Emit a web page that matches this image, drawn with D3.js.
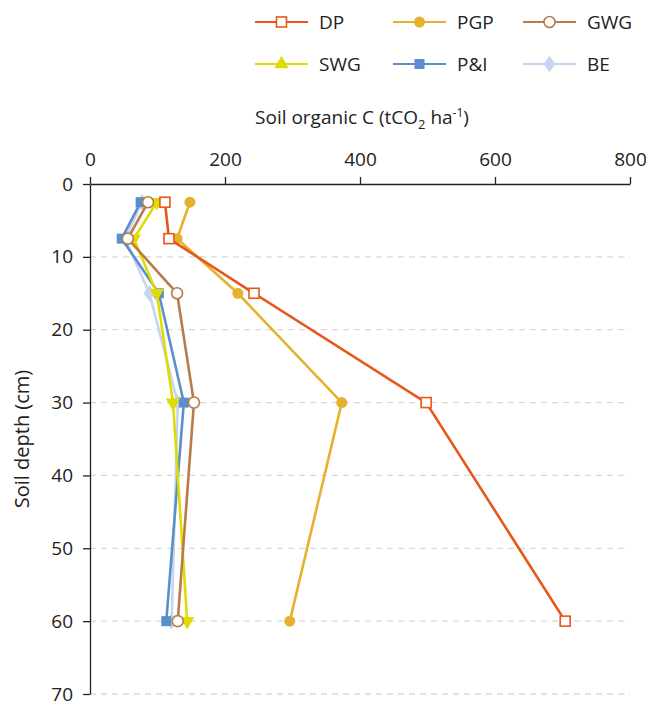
<!DOCTYPE html>
<html>
<head>
<meta charset="utf-8">
<script src="https://cdn.jsdelivr.net/npm/d3@7"></script>
<style>
  body { margin: 0; background: #fff; }
  text { font-family: "Open Sans", "Noto Sans", sans-serif; fill: #222; }
</style>
</head>
<body>
<div id="chart"></div>
<script>
// depth (cm) at each sampling point
const depths = [2.5, 7.5, 15, 30, 60];

// soil organic C (tCO2 ha-1) per land-use series
const seriesNames = ['DP', 'PGP', 'GWG', 'SWG', 'P&I', 'BE'];
const dpValues  = [111, 117, 243, 498, 704];
const pgpValues = [148, 129, 219, 373, 296];
const gwgValues = [86, 56, 129, 154, 130];
const swgValues = [99, 65, 99, 123, 144];
const piValues  = [75, 47, 102, 139, 113];
const beValues  = [77, 52, 88, 130, 121];

const xTicks = [0, 200, 400, 600, 800];
const yTicks = [0, 10, 20, 30, 40, 50, 60, 70];

const series = [
  {name: 'BE',  values: beValues,  color: '#c5d5ef', marker: 'diamond'},
  {name: 'P&I', values: piValues,  color: '#5b8fcc', marker: 'square'},
  {name: 'SWG', values: swgValues, color: '#dedc00', marker: 'triangle'},
  {name: 'GWG', values: gwgValues, color: '#b97b4a', marker: 'circleOpen'},
  {name: 'PGP', values: pgpValues, color: '#e6b22e', marker: 'circle'},
  {name: 'DP',  values: dpValues,  color: '#e8561a', marker: 'squareOpen'}
];

const width = 646, height = 701;
const margin = {top: 184, right: 16, bottom: 7, left: 90};
const innerW = width - margin.left - margin.right;
const innerH = height - margin.top - margin.bottom;

const svg = d3.select('#chart').append('svg')
  .attr('width', width)
  .attr('height', height);

const chart = svg.append('g')
  .attr('transform', `translate(${margin.left},${margin.top})`);

const xScale = d3.scaleLinear().domain([0, 800]).range([0, innerW]);
const yScale = d3.scaleLinear().domain([0, 70]).range([0, innerH]);

// dashed gridlines
chart.append('g').selectAll('line')
  .data(yTicks.filter(d => d > 0))
  .enter().append('line')
  .attr('x1', 0).attr('x2', innerW)
  .attr('y1', d => yScale(d)).attr('y2', d => yScale(d))
  .attr('stroke', '#d9d9d9')
  .attr('stroke-width', 1.3)
  .attr('stroke-dasharray', '6,5');

// axes
const xAxisG = chart.append('g')
  .call(d3.axisTop(xScale).tickValues(xTicks).tickSize(7).tickSizeOuter(0).tickPadding(11));
const yAxisG = chart.append('g')
  .call(d3.axisLeft(yScale).tickValues(yTicks).tickSize(7).tickSizeOuter(0).tickPadding(10));

[xAxisG, yAxisG].forEach(g => {
  g.selectAll('path, line').attr('stroke', '#222').attr('stroke-width', 1.3);
  g.selectAll('text').style('font-size', '19px').attr('fill', '#222');
});

// axis titles
const xTitle = svg.append('text')
  .attr('x', 362).attr('y', 124)
  .attr('text-anchor', 'middle')
  .style('font-size', '19px');
xTitle.append('tspan').text('Soil organic C (tCO');
xTitle.append('tspan').text('2').attr('dy', 5).style('font-size', '13px');
xTitle.append('tspan').text(' ha').attr('dy', -5);
xTitle.append('tspan').text('-1').attr('dy', -7).style('font-size', '12px');
xTitle.append('tspan').text(')').attr('dy', 7);

svg.append('text')
  .attr('transform', `translate(29,${margin.top + innerH / 2}) rotate(-90)`)
  .attr('text-anchor', 'middle')
  .style('font-size', '20px')
  .text('Soil depth (cm)');

// marker drawing helper
function drawMarker(g, type, color, flip) {
  if (type === 'square' || type === 'squareOpen') {
    g.append('rect')
      .attr('x', -5).attr('y', -5).attr('width', 10).attr('height', 10)
      .attr('fill', type === 'square' ? color : '#fff')
      .attr('stroke', color).attr('stroke-width', type === 'square' ? 0 : 1.6);
  } else if (type === 'circle' || type === 'circleOpen') {
    g.append('circle')
      .attr('r', 5.5)
      .attr('fill', type === 'circle' ? color : '#fff')
      .attr('stroke', color).attr('stroke-width', type === 'circle' ? 0 : 1.6);
  } else if (type === 'triangle') {
    g.append('path')
      .attr('d', d3.symbol(d3.symbolTriangle, 90)())
      .attr('transform', flip ? 'rotate(180)' : null)
      .attr('fill', color);
  } else if (type === 'diamond') {
    g.append('path')
      .attr('d', d3.symbol(d3.symbolDiamond, 80)())
      .attr('transform', 'scale(1.25,1)')
      .attr('fill', color);
  }
}

const line = d3.line()
  .x(d => xScale(d.v))
  .y(d => yScale(d.depth));

series.forEach(s => {
  const pts = s.values.map((v, i) => ({v, depth: depths[i]}));
  chart.append('path')
    .datum(pts)
    .attr('d', line)
    .attr('fill', 'none')
    .attr('stroke', s.color)
    .attr('stroke-width', 2.6);
  pts.forEach(p => {
    const g = chart.append('g')
      .attr('transform', `translate(${xScale(p.v)},${yScale(p.depth)})`);
    drawMarker(g, s.marker, s.color, true);
  });
});

// legend
const legendX = [255, 393, 523];
const legendY = [22, 64];
seriesNames.forEach((name, i) => {
  const s = series.find(d => d.name === name);
  const lx = legendX[i % 3], ly = legendY[Math.floor(i / 3)];
  const g = svg.append('g').attr('transform', `translate(${lx},${ly})`);
  g.append('line')
    .attr('x1', 0).attr('x2', 53)
    .attr('stroke', s.color).attr('stroke-width', 2);
  const m = g.append('g').attr('transform', 'translate(26.5,0)');
  drawMarker(m, s.marker, s.color, false);
  g.append('text')
    .attr('x', 64).attr('y', 0).attr('dy', '0.35em')
    .style('font-size', '19px')
    .text(name);
});
</script>
</body>
</html>
